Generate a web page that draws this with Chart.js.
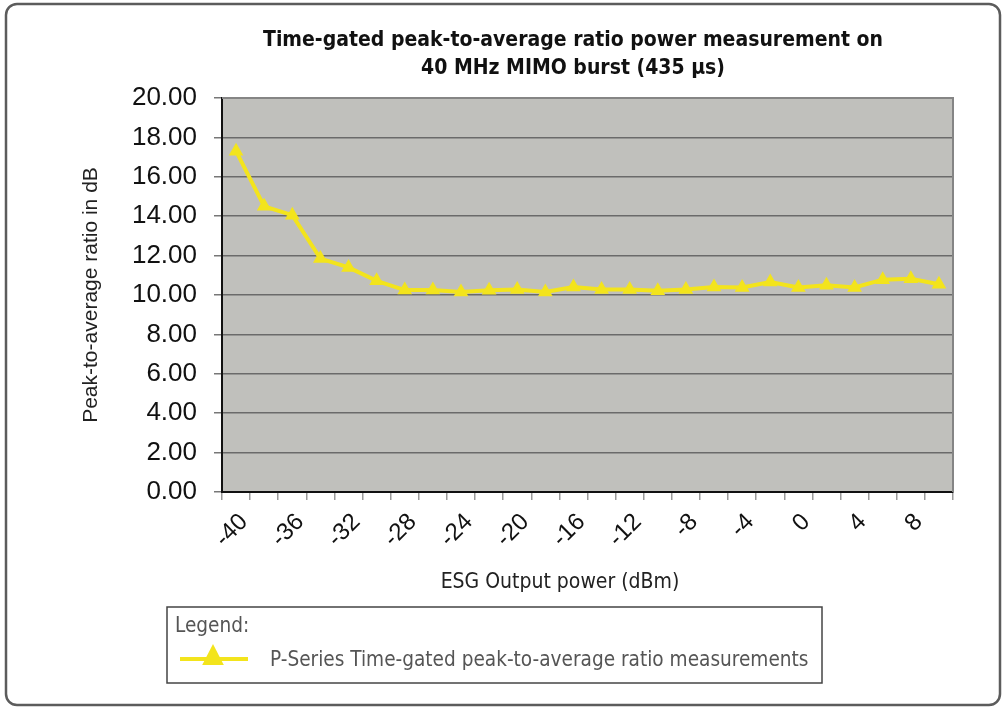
<!DOCTYPE html>
<html>
<head>
<meta charset="utf-8">
<script src="https://cdn.jsdelivr.net/npm/chart.js@4"></script>
<style>
  html, body { margin: 0; padding: 0; background: #fff; }
  #wrap { width: 1007px; height: 710px; position: relative; }
</style>
</head>
<body>
<div id="wrap"><canvas id="papr" width="1007" height="710"></canvas></div>
<script>
// --- Chart data ---
const outputPower = ['-40', '-38', '-36', '-34', '-32', '-30', '-28', '-26', '-24', '-22', '-20', '-18', '-16',
                     '-14', '-12', '-10', '-8', '-6', '-4', '-2', '0', '2', '4', '6', '8', '10'];
const papr = [17.3, 14.5, 14.05, 11.85, 11.4, 10.72, 10.25, 10.25, 10.15, 10.24, 10.28, 10.15, 10.41,
              10.28, 10.28, 10.21, 10.28, 10.41, 10.38, 10.66, 10.38, 10.5, 10.38, 10.78, 10.82, 10.55];
const yTicks = [0, 2, 4, 6, 8, 10, 12, 14, 16, 18, 20];

const chartTitle = ['Time-gated peak-to-average ratio power measurement on', '40 MHz MIMO burst (435 \u00b5s)'];
const xTitle = 'ESG Output power (dBm)';
const yTitle = 'Peak-to-average ratio in dB';
const seriesLabel = 'P-Series Time-gated peak-to-average ratio measurements';

const NARROW = '"Liberation Sans Narrow", "DejaVu Sans Condensed", sans-serif';
const ARIAL = '"Liberation Sans", Arial, sans-serif';
const YELLOW = '#f3e41c';

// --- Helpers ---
const triangle = (ctx, x, y, r) => {
  ctx.beginPath();
  ctx.moveTo(x, y - r);
  ctx.lineTo(x + r * 0.9, y + r * 0.75);
  ctx.lineTo(x - r * 0.9, y + r * 0.75);
  ctx.closePath();
  ctx.fill();
};

// frame, plot background, title and legend
const decorations = {
  id: 'decorations',
  beforeDraw(chart) {
    const { ctx, chartArea: a } = chart;
    ctx.save();
    ctx.strokeStyle = '#5c5c5c';
    ctx.lineWidth = 2.5;
    ctx.beginPath();
    ctx.roundRect(6, 4, 994, 701, 11);
    ctx.stroke();
    ctx.fillStyle = '#c0c0bc';
    ctx.fillRect(a.left, a.top, a.right - a.left, a.bottom - a.top);
    ctx.restore();
  },
  beforeDatasetsDraw(chart) {
    const { ctx, chartArea: a } = chart;
    ctx.save();
    ctx.strokeStyle = '#858585';
    ctx.lineWidth = 2;
    ctx.beginPath();
    ctx.moveTo(a.left, a.top);
    ctx.lineTo(a.right, a.top);
    ctx.lineTo(a.right, a.bottom);
    ctx.stroke();
    ctx.restore();
  },
  afterDraw(chart) {
    const { ctx } = chart;
    ctx.save();
    // title
    ctx.fillStyle = '#111';
    ctx.textAlign = 'center';
    ctx.textBaseline = 'middle';
    ctx.font = 'bold 21px ' + NARROW;
    chartTitle.forEach((line, i) => ctx.fillText(line, 573, 41 + i * 28));
    // x axis title
    ctx.font = '21px ' + NARROW;
    ctx.fillStyle = '#222';
    ctx.fillText(xTitle, 560, 583);
    // legend box
    ctx.fillStyle = '#fff';
    ctx.fillRect(167, 607, 655, 76);
    ctx.strokeStyle = '#444';
    ctx.lineWidth = 1.5;
    ctx.strokeRect(167, 607, 655, 76);
    ctx.textAlign = 'left';
    ctx.fillStyle = '#555';
    ctx.font = '20.6px ' + NARROW;
    ctx.fillText('Legend:', 175, 627);
    ctx.strokeStyle = YELLOW;
    ctx.lineWidth = 4;
    ctx.beginPath();
    ctx.moveTo(180, 659);
    ctx.lineTo(248, 659);
    ctx.stroke();
    ctx.fillStyle = YELLOW;
    triangle(ctx, 213, 656, 12);
    ctx.fillStyle = '#555';
    ctx.fillText(seriesLabel, 270, 661);
    ctx.restore();
  }
};

new Chart(document.getElementById('papr'), {
  type: 'line',
  data: {
    labels: outputPower,
    datasets: [{
      label: seriesLabel,
      data: papr,
      borderColor: YELLOW,
      backgroundColor: YELLOW,
      borderWidth: 4,
      pointStyle: 'triangle',
      pointRadius: 8.5,
      pointBorderWidth: 0,
      tension: 0,
    }],
  },
  options: {
    responsive: false,
    animation: false,
    devicePixelRatio: 1,
    layout: { padding: { left: 0, right: 54, top: 98, bottom: 83 } },
    plugins: {
      legend: { display: false },
      title: { display: false },
      tooltip: { enabled: false },
    },
    scales: {
      x: {
        offset: true,
        grid: { offset: true, drawOnChartArea: false, tickLength: 8, tickColor: '#9a9a9a', lineWidth: 1.5 },
        border: { color: '#111', width: 2 },
        ticks: {
          autoSkip: false,
          minRotation: 45,
          maxRotation: 45,
          padding: 8,
          labelOffset: 8,
          color: '#111',
          font: { family: ARIAL, size: 24 },
          callback: (v, i) => (i % 2 === 0 ? outputPower[i] : ''),
        },
        afterFit: (s) => { s.height = 135; },
      },
      y: {
        min: 0,
        max: 20,
        afterBuildTicks: (s) => { s.ticks = yTicks.map(v => ({ value: v })); },
        grid: { color: '#6a6a6a', lineWidth: 1.5, tickLength: 8, tickColor: '#777' },
        border: { color: '#111', width: 2 },
        ticks: {
          padding: 17,
          color: '#111',
          font: { family: ARIAL, size: 26 },
          callback: (v) => Number(v).toFixed(2),
        },
        title: {
          display: true,
          text: yTitle,
          color: '#222',
          font: { family: ARIAL, size: 21 },
          padding: { top: 79, bottom: 0 },
        },
        afterFit: (s) => { s.width = 222; },
      },
    },
  },
  plugins: [decorations],
});
</script>
</body>
</html>
